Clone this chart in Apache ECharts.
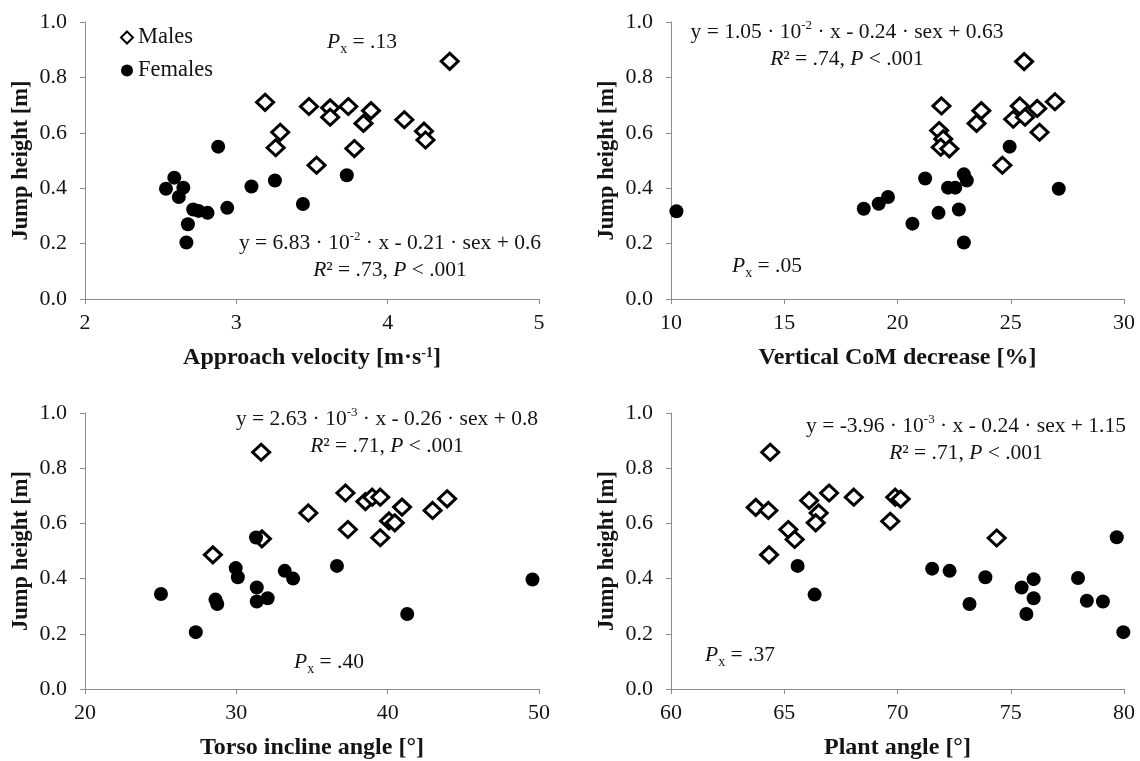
<!DOCTYPE html>
<html>
<head>
<meta charset="utf-8">
<script src="https://cdn.jsdelivr.net/npm/echarts@6/dist/echarts.min.js"></script>
<style>
html,body{margin:0;padding:0;background:#fff;}
#chart{width:1140px;height:761px;}
</style>
</head>
<body>
<div id="chart"></div>
<script>
// ---- data (x value, jump height [m]) ----
const velocityMales = [[4.41,0.858],[3.19,0.71],[3.48,0.695],[3.62,0.69],[3.62,0.656],[3.74,0.695],[3.89,0.68],[3.84,0.634],[3.29,0.602],[3.26,0.546],[3.78,0.543],[3.53,0.483],[4.11,0.647],[4.24,0.606],[4.25,0.574]];
const velocityFemales = [[2.535,0.398],[2.59,0.438],[2.65,0.402],[2.62,0.368],[2.715,0.323],[2.75,0.318],[2.81,0.311],[2.68,0.270],[2.67,0.204],[2.88,0.550],[2.94,0.329],[3.10,0.406],[3.255,0.428],[3.44,0.343],[3.73,0.447]];
const comMales = [[25.59,0.857],[21.94,0.697],[25.40,0.697],[23.70,0.680],[23.49,0.634],[26.17,0.688],[26.95,0.712],[25.11,0.649],[25.63,0.656],[26.27,0.602],[21.84,0.608],[22.02,0.578],[21.91,0.548],[22.29,0.542],[24.63,0.483]];
const comFemales = [[10.24,0.317],[18.51,0.326],[19.17,0.344],[19.58,0.368],[20.66,0.272],[21.22,0.435],[21.81,0.311],[22.23,0.402],[22.55,0.402],[22.71,0.323],[22.93,0.450],[23.06,0.428],[22.93,0.204],[24.95,0.550],[27.12,0.398]];
const torsoMales = [[31.64,0.858],[37.21,0.710],[34.76,0.638],[38.53,0.679],[38.98,0.695],[39.51,0.695],[40.95,0.659],[42.97,0.647],[43.93,0.689],[40.09,0.609],[40.47,0.602],[37.37,0.578],[39.51,0.548],[31.69,0.544],[28.45,0.486]];
const torsoFemales = [[25.02,0.344],[27.32,0.206],[28.62,0.324],[28.74,0.308],[29.96,0.438],[30.10,0.405],[31.30,0.549],[31.35,0.368],[31.35,0.317],[32.07,0.329],[33.20,0.428],[33.75,0.400],[36.65,0.446],[41.29,0.272],[49.57,0.397]];
const plantMales = [[64.38,0.858],[63.74,0.658],[64.30,0.647],[64.33,0.486],[65.18,0.578],[65.46,0.542],[66.10,0.683],[66.52,0.638],[66.39,0.602],[66.98,0.710],[68.07,0.695],[69.90,0.695],[70.14,0.688],[69.68,0.608],[74.38,0.547]];
const plantFemales = [[65.59,0.446],[66.34,0.342],[71.53,0.436],[72.30,0.428],[73.18,0.308],[73.88,0.405],[75.48,0.368],[75.69,0.272],[76.01,0.398],[76.01,0.329],[77.97,0.402],[78.36,0.320],[79.07,0.317],[79.68,0.550],[79.97,0.206]];

// axis ranges
const xMins = [2, 10, 20, 60];
const xMaxs = [5, 30, 50, 80];
const xIntervals = [1, 5, 10, 5];
const xNames = ['{b|Approach velocity [m·s}{bs|-1}{b|]}', 'Vertical CoM decrease [%]', 'Torso incline angle [°]', 'Plant angle [°]'];
const yName = 'Jump height [m]';

// annotations
const eqLine1 = [
  ['y = 6.83 · 10', '-2', ' · x - 0.21 · sex + 0.6'],
  ['y = 1.05 · 10', '-2', ' · x - 0.24 · sex + 0.63'],
  ['y = 2.63 · 10', '-3', ' · x - 0.26 · sex + 0.8'],
  ['y = -3.96 · 10', '-3', ' · x - 0.24 · sex + 1.15']
];
const eqR2 = ['.73', '.74', '.71', '.71'];
const pxValues = ['.13', '.05', '.40', '.37'];

const FONT = "'Liberation Serif', 'Times New Roman', serif";
const TXT = '#141414';
const AX = '#8c8c8c';

const grids = [
  {left: 85, top: 22, width: 454, height: 277},
  {left: 671, top: 22, width: 453, height: 277},
  {left: 85, top: 413, width: 454, height: 278},
  {left: 671, top: 413, width: 453, height: 278}
];

const richBase = {
  n: {fontSize: 21.5, fontFamily: FONT, fill: TXT, color: TXT, lineHeight: 27},
  i: {fontSize: 21.5, fontFamily: FONT, fontStyle: 'italic', fill: TXT, color: TXT, lineHeight: 27},
  sup: {fontSize: 13, fontFamily: FONT, fill: TXT, color: TXT, verticalAlign: 'top', lineHeight: 18},
  sub: {fontSize: 14, fontFamily: FONT, fill: TXT, color: TXT, verticalAlign: 'bottom', lineHeight: 14}
};

const xAxes = [], yAxes = [];
for (let k = 0; k < 4; k++) {
  xAxes.push({
    type: 'value', gridIndex: k, min: xMins[k], max: xMaxs[k], interval: xIntervals[k],
    name: k === 0 ? xNames[0] : '{b|' + xNames[k] + '}',
    nameLocation: 'middle', nameGap: 47,
    nameTextStyle: {
      rich: {
        b: {fontSize: 24, fontWeight: 'bold', fontFamily: FONT, color: TXT},
        bs: {fontSize: 14, fontWeight: 'bold', fontFamily: FONT, color: TXT, verticalAlign: 'top'}
      }
    },
    axisLine: {lineStyle: {color: AX, width: 1}},
    axisTick: {show: true, inside: false, length: 5, lineStyle: {color: AX}},
    axisLabel: {fontSize: 22, fontFamily: FONT, color: TXT, margin: 13},
    splitLine: {show: false}
  });
  yAxes.push({
    type: 'value', gridIndex: k, min: 0, max: 1, interval: 0.2,
    name: yName, nameLocation: 'middle', nameGap: 52, nameRotate: 90,
    nameTextStyle: {fontSize: 22.5, fontWeight: 'bold', fontFamily: FONT, color: TXT},
    axisLine: {show: true, lineStyle: {color: AX, width: 1}},
    axisTick: {show: true, inside: false, length: 5, lineStyle: {color: AX}},
    axisLabel: {fontSize: 22, fontFamily: FONT, color: TXT, margin: 18, formatter: v => v.toFixed(1)},
    splitLine: {show: false}
  });
}

const maleSets = [velocityMales, comMales, torsoMales, plantMales];
const femaleSets = [velocityFemales, comFemales, torsoFemales, plantFemales];
const series = [];
for (let k = 0; k < 4; k++) {
  series.push({
    name: 'Males', type: 'scatter', xAxisIndex: k, yAxisIndex: k,
    data: maleSets[k], symbol: 'diamond', symbolSize: [17, 16],
    itemStyle: {color: '#ffffff', borderColor: '#000000', borderWidth: 3, opacity: 1},
    z: 2
  });
  series.push({
    name: 'Females', type: 'scatter', xAxisIndex: k, yAxisIndex: k,
    data: femaleSets[k], symbol: 'circle', symbolSize: 14,
    itemStyle: {color: '#000000', borderColor: '#000000', borderWidth: 0, opacity: 1},
    z: 3
  });
}

// annotation placement (centre x, first-line top y) per panel
const eqPos = [[390, 230], [847, 19], [387, 406], [966, 413]];
const pxPos = [[327, 29], [732, 253], [294, 649], [705, 642]];

const graphics = [];
for (let k = 0; k < 4; k++) {
  const e = eqLine1[k];
  graphics.push({
    type: 'text', x: eqPos[k][0], y: eqPos[k][1], z: 10,
    style: {
      text: '{n|' + e[0] + '}{sup|' + e[1] + '}{n|' + e[2] + '}\n{i|R}{n|² = ' + eqR2[k] + ', }{i|P}{n| < .001}',
      rich: richBase, align: 'center', verticalAlign: 'top', fill: TXT
    }
  });
  graphics.push({
    type: 'text', x: pxPos[k][0], y: pxPos[k][1], z: 10,
    style: {
      text: '{i|P}{sub|x}{n| = ' + pxValues[k] + '}',
      rich: richBase, align: 'left', verticalAlign: 'top', fill: TXT
    }
  });
}

const chart = echarts.init(document.getElementById('chart'), null, {renderer: 'canvas'});
chart.setOption({
  animation: false,
  backgroundColor: '#ffffff',
  grid: grids,
  xAxis: xAxes,
  yAxis: yAxes,
  legend: {
    data: [
      {name: 'Males', itemStyle: {borderWidth: 2}},
      {name: 'Females'}
    ],
    orient: 'vertical', left: 115, top: 21, itemWidth: 12, itemHeight: 12, itemGap: 10,
    textStyle: {fontSize: 22.5, fontFamily: FONT, color: TXT},
    selectedMode: false
  },
  series: series,
  graphic: graphics
});
</script>
</body>
</html>
